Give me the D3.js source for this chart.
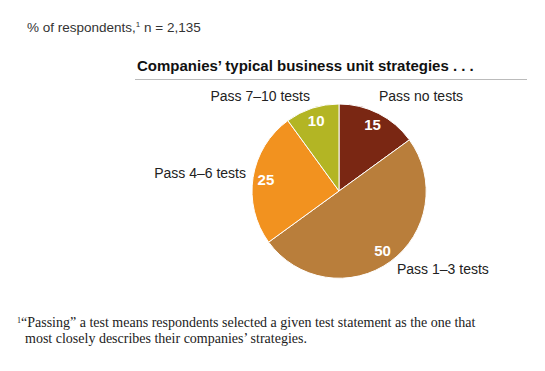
<!DOCTYPE html>
<html>
<head>
<meta charset="utf-8">
<script src="https://cdn.jsdelivr.net/npm/d3@7"></script>
<style>
  body { margin: 0; background: #fff; }
  svg { display: block; }
</style>
</head>
<body>
<svg id="chart" width="545" height="371"></svg>
<script>
// chart data
const categories = ['Pass no tests', 'Pass 1\u20133 tests', 'Pass 4\u20136 tests', 'Pass 7\u201310 tests'];
const values = [15, 50, 25, 10];
const colors = ['#7a2713', '#b97e3b', '#f2921f', '#b3b524'];

const svg = d3.select('#chart');
const sans = '"Liberation Sans", Arial, sans-serif';
const serif = '"Liberation Serif", "DejaVu Serif", serif';

const cx = 339, cy = 191, radius = 87;

// header
svg.append('text')
    .attr('x', 27).attr('y', 32)
    .attr('font-family', sans).attr('font-size', 13.5).attr('fill', '#333')
    .html('% of respondents,<tspan font-size="8" dy="-5">1</tspan><tspan dy="5"> n = 2,135</tspan>');

svg.append('text')
    .attr('x', 137).attr('y', 71)
    .attr('font-family', sans).attr('font-size', 15).attr('font-weight', 'bold').attr('fill', '#111')
    .text('Companies\u2019 typical business unit strategies . . .');

svg.append('line')
    .attr('x1', 135).attr('x2', 527).attr('y1', 79.5).attr('y2', 79.5)
    .attr('stroke', '#bbb').attr('stroke-width', 1);

// pie
const pie = d3.pie().sort(null).value(d => d.value);
const arcs = pie(categories.map((c, i) => ({ name: c, value: values[i], color: colors[i] })));
const arc = d3.arc().innerRadius(0).outerRadius(radius);
const labelArc = d3.arc().innerRadius(74).outerRadius(74);

const g = svg.append('g').attr('transform', `translate(${cx},${cy})`);

g.selectAll('path.slice')
    .data(arcs)
    .join('path')
    .attr('class', 'slice')
    .attr('d', arc)
    .attr('fill', d => d.data.color)
    .attr('stroke', '#fff')
    .attr('stroke-width', 1);

g.selectAll('text.value')
    .data(arcs)
    .join('text')
    .attr('class', 'value')
    .attr('transform', d => `translate(${labelArc.centroid(d)})`)
    .attr('text-anchor', 'middle')
    .attr('dy', '0.36em')
    .attr('font-family', sans).attr('font-size', 15).attr('font-weight', 'bold')
    .attr('fill', '#fff')
    .text(d => d.data.value);

// outside category labels (offsets from the pie centre)
const labelSpots = [
    { anchor: 'start', dx: 40, dy: -90 },
    { anchor: 'start', dx: 58, dy: 83 },
    { anchor: 'end', dx: -93, dy: -13 },
    { anchor: 'end', dx: -29, dy: -90 }
];

g.selectAll('text.cat')
    .data(arcs)
    .join('text')
    .attr('class', 'cat')
    .attr('x', (d, i) => labelSpots[i].dx)
    .attr('y', (d, i) => labelSpots[i].dy)
    .attr('text-anchor', (d, i) => labelSpots[i].anchor)
    .attr('font-family', sans).attr('font-size', 14).attr('fill', '#222')
    .text(d => d.data.name);

// footnote
const foot = svg.append('text')
    .attr('font-family', serif).attr('font-size', 14).attr('fill', '#222');
foot.append('tspan').attr('x', 17).attr('y', 323).attr('font-size', 8).text('1');
foot.append('tspan').attr('y', 327).text('\u201cPassing\u201d a test means respondents selected a given test statement as the one that');
foot.append('tspan').attr('x', 25).attr('y', 343).text('most closely describes their companies\u2019 strategies.');
</script>
</body>
</html>
